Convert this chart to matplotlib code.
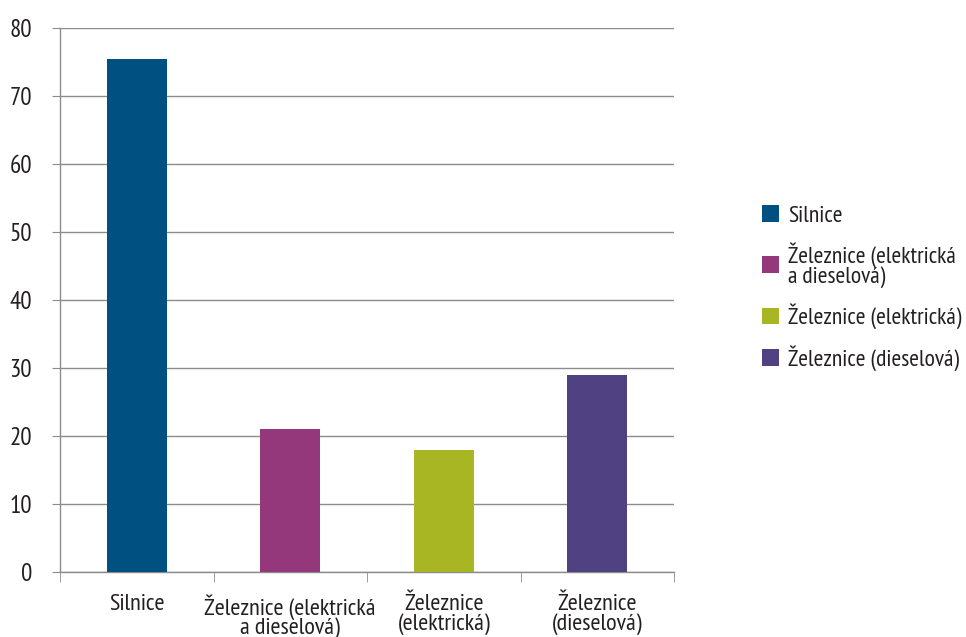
import numpy as np
import matplotlib.pyplot as plt
from matplotlib.patches import Patch

plt.rcParams['font.family'] = ['PT Sans Narrow', 'DejaVu Sans']

categories = ['Silnice', 'Železnice (elektrická\na dieselová)',
              'Železnice\n(elektrická)', 'Železnice\n(dieselová)']
legend_labels = ['Silnice', 'Železnice (elektrická\na dieselová)',
                 'Železnice (elektrická)', 'Železnice (dieselová)']
values = [75.4, 21, 18, 29]
colors = ['#005082', '#94387b', '#a8b623', '#504183']
yticks = [0, 10, 20, 30, 40, 50, 60, 70, 80]

text_col = '#231f20'
grid_col = '#8c8c8c'

fig = plt.figure(figsize=(9.66, 6.37), dpi=100)
ax = fig.add_axes([60 / 966, 65 / 637, 614 / 966, 544 / 637])

x = np.arange(len(values))
ax.bar(x, values, width=0.39, color=colors, zorder=3)

ax.set_xlim(-0.5, len(values) - 0.5)
ax.set_ylim(0, 80)
ax.set_yticks(yticks)
ax.grid(axis='y', color=grid_col, linewidth=1, zorder=0)
ax.tick_params(axis='y', length=6, color=grid_col, pad=14,
               labelsize=18, labelcolor=text_col)

ax.set_xticks(x)
ax.set_xticklabels(categories, fontsize=17.5, color=text_col, linespacing=0.85)
ax.tick_params(axis='x', which='major', length=0, pad=16)
ax.set_xticks(np.arange(-0.5, len(values)), minor=True)
ax.tick_params(axis='x', which='minor', length=7, color=grid_col)

for side in ['top', 'right']:
    ax.spines[side].set_visible(False)
for side in ['left', 'bottom']:
    ax.spines[side].set_color(grid_col)
    ax.spines[side].set_linewidth(1)

handles = [Patch(facecolor=c, edgecolor='none') for c in colors]
leg = fig.legend(handles, legend_labels, loc='center left',
                 bbox_to_anchor=(762 / 966, 1 - 288 / 637), frameon=False,
                 borderaxespad=0, borderpad=0,
                 fontsize=17, handlelength=0.72, handleheight=0.72,
                 handletextpad=0.38, labelspacing=0.68)
for t in leg.get_texts():
    t.set_color(text_col)
    t.set_linespacing(0.85)

fig.savefig('out.png', dpi=100)
